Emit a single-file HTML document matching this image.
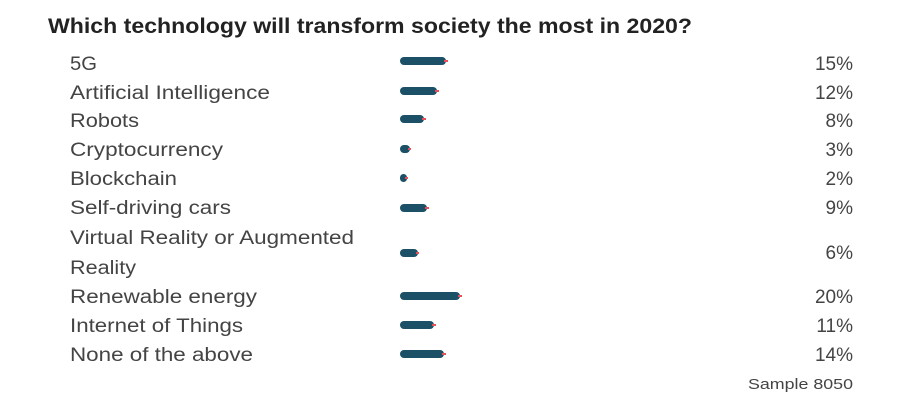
<!DOCTYPE html>
<html><head><meta charset="utf-8"><style>
html,body{margin:0;padding:0;background:#fff;}
svg{display:block;}
text{font-family:"Liberation Sans",sans-serif;fill:#444;}
.l{font-size:19px;}
.p{font-size:19px;text-anchor:end;}
</style></head><body>
<svg width="911" height="411" viewBox="0 0 911 411" xmlns="http://www.w3.org/2000/svg">
<rect width="911" height="411" fill="#fff"/>
<text x="48" y="33" font-size="21" font-weight="bold" style="fill:#222" textLength="644" lengthAdjust="spacingAndGlyphs">Which technology will transform society the most in 2020?</text>

<g class="labels">
<text class="l" x="70" y="70" textLength="27" lengthAdjust="spacingAndGlyphs">5G</text>
<text class="l" x="70" y="99" textLength="200" lengthAdjust="spacingAndGlyphs">Artificial Intelligence</text>
<text class="l" x="70" y="127" textLength="69" lengthAdjust="spacingAndGlyphs">Robots</text>
<text class="l" x="70" y="156" textLength="153" lengthAdjust="spacingAndGlyphs">Cryptocurrency</text>
<text class="l" x="70" y="185" textLength="107" lengthAdjust="spacingAndGlyphs">Blockchain</text>
<text class="l" x="70" y="214" textLength="161" lengthAdjust="spacingAndGlyphs">Self-driving cars</text>
<text class="l" x="70" y="244" textLength="284" lengthAdjust="spacingAndGlyphs">Virtual Reality or Augmented</text>
<text class="l" x="70" y="274" textLength="66" lengthAdjust="spacingAndGlyphs">Reality</text>
<text class="l" x="70" y="303" textLength="187" lengthAdjust="spacingAndGlyphs">Renewable energy</text>
<text class="l" x="70" y="332" textLength="173" lengthAdjust="spacingAndGlyphs">Internet of Things</text>
<text class="l" x="70" y="361" textLength="183" lengthAdjust="spacingAndGlyphs">None of the above</text>
</g>

<g fill="#1b5066">
<rect x="400" y="57" width="46" height="8" rx="4"/>
<rect x="400" y="87" width="37" height="8" rx="4"/>
<rect x="400" y="115" width="24" height="8" rx="4"/>
<rect x="400" y="145" width="10" height="8" rx="4"/>
<rect x="400" y="174" width="7" height="8" rx="3.5"/>
<rect x="400" y="204" width="27" height="8" rx="4"/>
<rect x="400" y="249" width="18" height="8" rx="4"/>
<rect x="400" y="292" width="60" height="8" rx="4"/>
<rect x="400" y="321" width="34" height="8" rx="4"/>
<rect x="400" y="350" width="44" height="8" rx="4"/>
</g>
<g fill="#e5505a">
<rect x="444" y="60" width="4" height="2"/>
<rect x="435" y="90" width="4" height="2"/>
<rect x="422" y="118" width="4" height="2"/>
<rect x="408" y="148" width="3" height="2"/>
<rect x="405" y="177" width="3" height="2"/>
<rect x="425" y="207" width="4" height="2"/>
<rect x="416" y="252" width="3" height="2"/>
<rect x="458" y="295" width="4" height="2"/>
<rect x="432" y="324" width="4" height="2"/>
<rect x="442" y="353" width="4" height="2"/>
</g>

<g>
<text class="p" x="853" y="70">15%</text>
<text class="p" x="853" y="99">12%</text>
<text class="p" x="853" y="127">8%</text>
<text class="p" x="853" y="156">3%</text>
<text class="p" x="853" y="185">2%</text>
<text class="p" x="853" y="214">9%</text>
<text class="p" x="853" y="259">6%</text>
<text class="p" x="853" y="303">20%</text>
<text class="p" x="853" y="332">11%</text>
<text class="p" x="853" y="361">14%</text>
<text x="853" y="389" font-size="15" text-anchor="end" textLength="105" lengthAdjust="spacingAndGlyphs">Sample 8050</text>
</g>
</svg>
</body></html>
